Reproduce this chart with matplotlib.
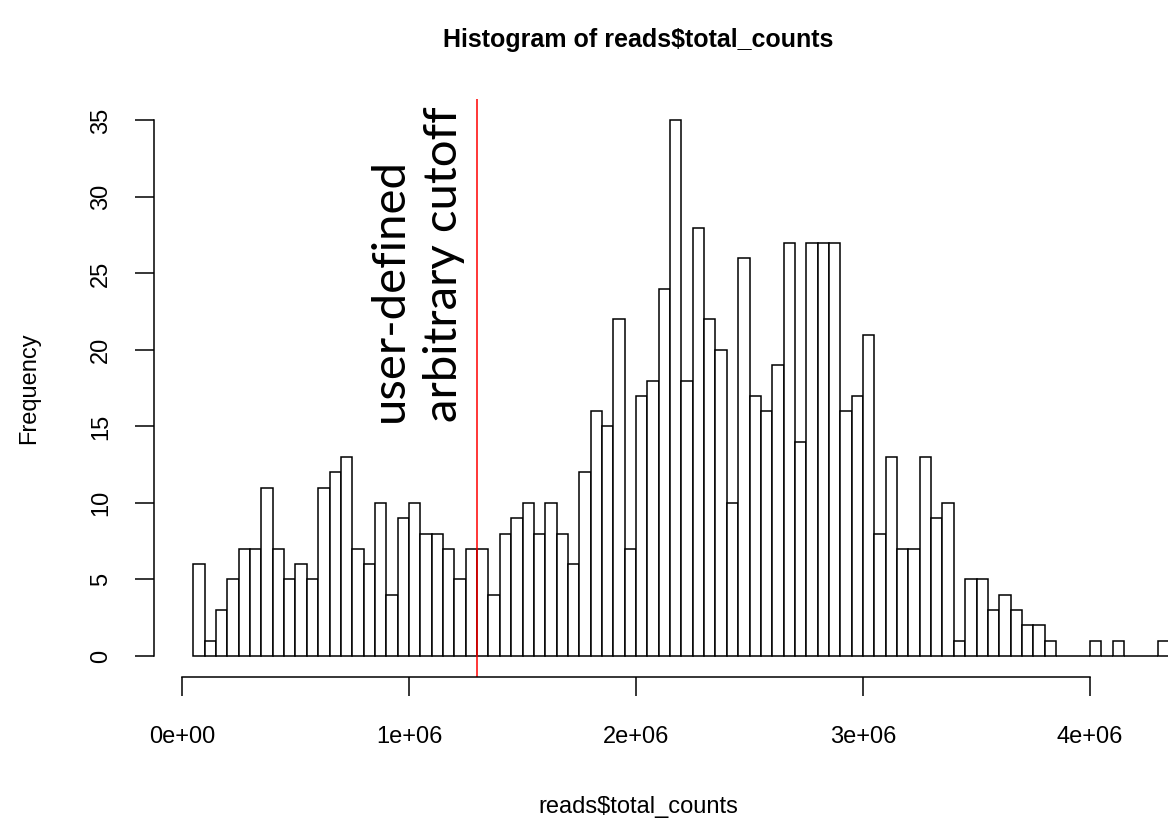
### Histogram of total read counts per cell with a manual cutoff ###

### Packages ####
import numpy as np
import matplotlib
matplotlib.use("Agg")
import matplotlib.pyplot as plt

### Data ###
bin_width = 50000        # width of each histogram break
first_break = 50000      # left edge of the first bin
# counts in each bin, read left to right
counts = [6, 1, 3, 5, 7, 7, 11, 7, 5, 6,
          5, 11, 12, 13, 7, 6, 10, 4, 9, 10,
          8, 8, 7, 5, 7, 7, 4, 8, 9, 10,
          8, 10, 8, 6, 12, 16, 15, 22, 7, 17,
          18, 24, 35, 18, 28, 22, 20, 10, 26, 17,
          16, 19, 27, 14, 27, 27, 27, 16, 17, 21,
          8, 13, 7, 7, 13, 9, 10, 1, 5, 5,
          3, 4, 3, 2, 2, 1, 0, 0, 0, 1,
          0, 1, 0, 0, 0, 1]
cutoff = 1.3e6           # user defined cutoff on total counts
x_ticks = [0, 1e6, 2e6, 3e6, 4e6]
x_tick_labels = ['0e+00', '1e+06', '2e+06', '3e+06', '4e+06']
y_ticks = [0, 5, 10, 15, 20, 25, 30, 35]

left_edges = first_break + bin_width * np.arange(len(counts))

### Plotting ###
plt.rcParams['font.family'] = ['Liberation Sans', 'DejaVu Sans']
fig = plt.figure(figsize=(11.68, 8.21), dpi=100)
ax = fig.add_axes([0.1321, 0.1749, 0.9026, 0.7045])

ax.bar(left_edges, counts, width=bin_width, align='edge',
       facecolor='white', edgecolor='black', linewidth=1.1)
ax.axvline(cutoff, color='red', linewidth=1.1)

ax.set_xlim(-0.122e6, 4.522e6)
ax.set_ylim(-1.4, 36.4)

# R style axes: only bottom and left, limited to the tick range
for side in ['top', 'right']:
    ax.spines[side].set_visible(False)
ax.spines['bottom'].set_bounds(0, 4e6)
ax.spines['left'].set_bounds(0, 35)
for side in ['bottom', 'left']:
    ax.spines[side].set_linewidth(1.1)

ax.set_xticks(x_ticks)
ax.set_xticklabels(x_tick_labels)
ax.set_yticks(y_ticks)
ax.tick_params(axis='both', direction='out', length=13.7, width=1.1, labelsize=17)
ax.tick_params(axis='x', pad=21)
ax.tick_params(axis='y', pad=16.5, labelrotation=90)
for lab in ax.get_yticklabels():
    lab.set_verticalalignment('center')

ax.set_xlabel('reads$total_counts', fontsize=17, va='center')
ax.xaxis.set_label_coords(0.4588, -0.224)
ax.set_ylabel('Frequency', fontsize=17, va='center', ha='center')
ax.yaxis.set_label_coords(-0.1189, 0.5)
ax.set_title('Histogram of reads$total_counts', fontsize=18, fontweight='bold',
             x=0.4588, y=1.088, va='center')

ax.text(1.035e6, 15.3, 'user-defined\narbitrary cutoff', rotation=90,
        ha='center', va='bottom', multialignment='left', linespacing=1.35,
        fontsize=34, family=['Lato', 'DejaVu Sans'])

fig.savefig('out.png', dpi=100)
